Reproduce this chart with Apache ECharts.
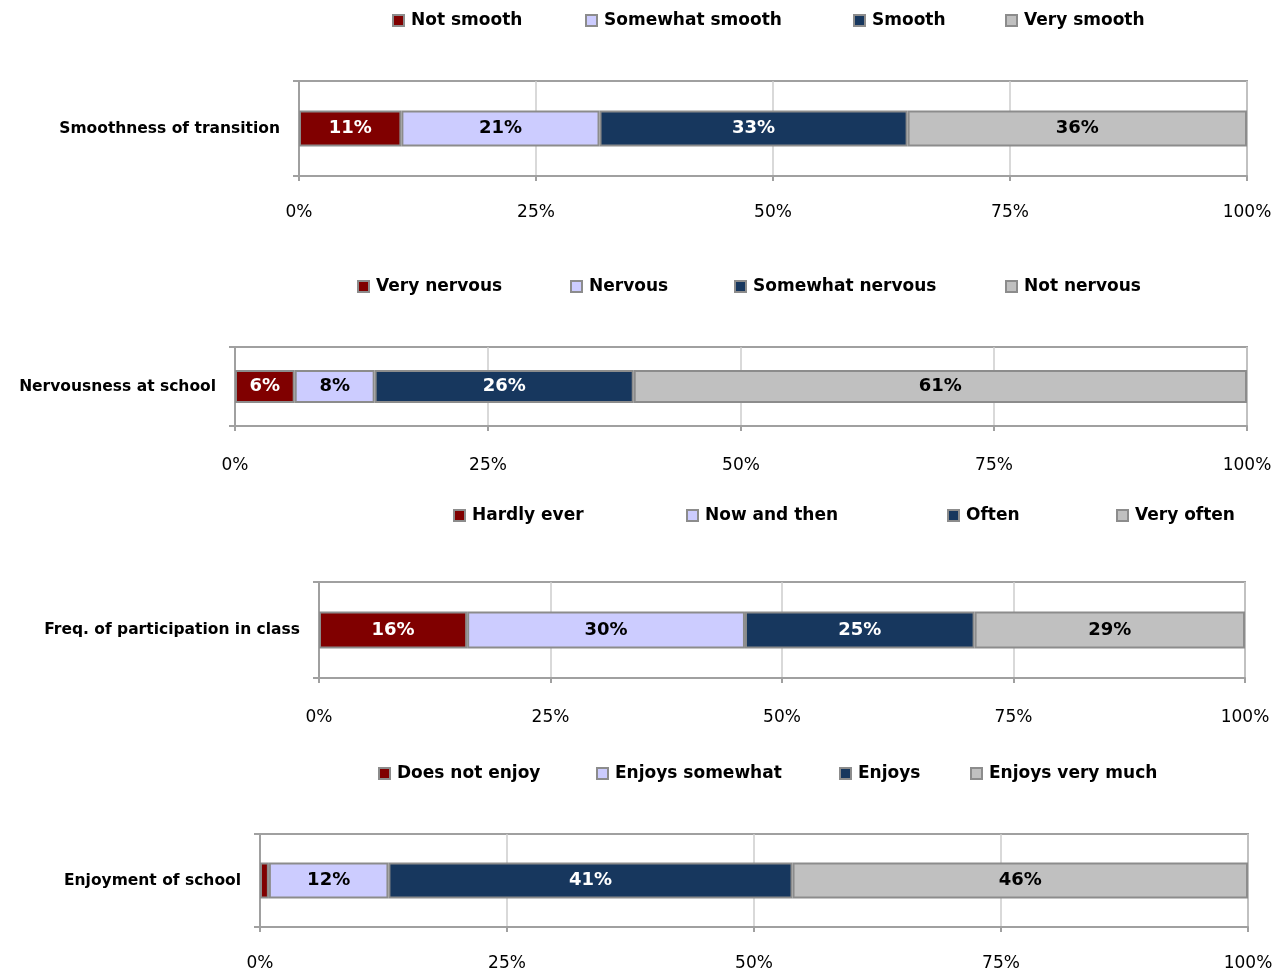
<!DOCTYPE html>
<html>
<head>
<meta charset="utf-8">
<script src="https://cdn.jsdelivr.net/npm/echarts@6/dist/echarts.min.js"></script>
<style>
html,body{margin:0;padding:0;background:#fff;}
#chart{width:1288px;height:973px;}
</style>
</head>
<body>
<div id="chart"></div>
<script>
// ---- Data ----
const categories = ['Smoothness of transition', 'Nervousness at school', 'Freq. of participation in class', 'Enjoyment of school'];
const legendNames1 = ['Not smooth', 'Somewhat smooth', 'Smooth', 'Very smooth'];
const legendNames2 = ['Very nervous', 'Nervous', 'Somewhat nervous', 'Not nervous'];
const legendNames3 = ['Hardly ever', 'Now and then', 'Often', 'Very often'];
const legendNames4 = ['Does not enjoy', 'Enjoys somewhat', 'Enjoys', 'Enjoys very much'];
const values1 = [10.8, 20.9, 32.5, 35.8];
const values2 = [5.9, 7.9, 25.6, 60.6];
const values3 = [16.0, 30.0, 24.8, 29.2];
const values4 = [0.9, 12.1, 40.9, 46.1];
const hideLabelBelow = [0, 0, 0, 5]; // small segment in last panel carries no label
const xTicks = [0, 25, 50, 75, 100];

const colors = ['#800000', '#ccccff', '#17375e', '#c0c0c0'];
const labelColors = ['#ffffff', '#000000', '#ffffff', '#000000'];
const FONT = 'DejaVu Sans';

const panels = [
  {names: legendNames1, values: values1, grid: {left: 299, right: 41, top: 81, height: 95}, barWidth: 36, labelMargin: 28, legendTop: 12, legendX: [392, 585, 853, 1005]},
  {names: legendNames2, values: values2, grid: {left: 235, right: 41, top: 347, height: 79}, barWidth: 33, labelMargin: 31, legendTop: 278, legendX: [357, 570, 734, 1005]},
  {names: legendNames3, values: values3, grid: {left: 319, right: 43, top: 582, height: 96}, barWidth: 37, labelMargin: 31, legendTop: 507, legendX: [453, 686, 947, 1116]},
  {names: legendNames4, values: values4, grid: {left: 260, right: 40, top: 834, height: 93}, barWidth: 36, labelMargin: 28, legendTop: 765, legendX: [378, 596, 839, 970]}
];

const grids = [], xAxes = [], yAxes = [], series = [], legends = [];
panels.forEach((p, i) => {
  grids.push(Object.assign({show: true, borderColor: '#a0a0a0', borderWidth: 2, backgroundColor: 'transparent'}, p.grid));
  xAxes.push({
    type: 'value', gridIndex: i, min: 0, max: 100, interval: 25,
    axisLine: {show: true, lineStyle: {color: '#a0a0a0', width: 2}},
    axisTick: {show: true, length: 5, lineStyle: {color: '#a0a0a0', width: 2}},
    splitLine: {show: true, lineStyle: {color: '#cccccc', width: 1.5}},
    axisLabel: {
      margin: p.labelMargin, fontFamily: FONT, fontSize: 17, color: '#000',
      formatter: v => xTicks.includes(v) ? v + '%' : ''
    }
  });
  yAxes.push({
    type: 'category', gridIndex: i, data: [categories[i]],
    axisLine: {show: true, lineStyle: {color: '#a0a0a0', width: 2}},
    axisTick: {show: true, length: 6, alignWithLabel: false, lineStyle: {color: '#a0a0a0', width: 2}},
    axisLabel: {margin: 19, fontFamily: FONT, fontSize: 15.5, fontWeight: 'bold', color: '#000'}
  });
  p.names.forEach((n, k) => {
    series.push({
      name: n, type: 'bar', stack: 'p' + i, xAxisIndex: i, yAxisIndex: i,
      barWidth: p.barWidth,
      data: [p.values[k]],
      itemStyle: {color: colors[k], borderColor: '#8c8c8c', borderWidth: 2},
      label: {
        show: true, position: 'inside', fontFamily: FONT, fontSize: 18, fontWeight: 'bold',
        color: labelColors[k],
        formatter: prm => prm.value < hideLabelBelow[i] ? '' : Math.round(prm.value) + '%'
      },
      emphasis: {disabled: true},
      animation: false
    });
    legends.push({
      data: [n], left: p.legendX[k], top: p.legendTop, padding: 0,
      icon: 'rect', itemWidth: 11, itemHeight: 11,
      textStyle: {fontFamily: FONT, fontSize: 17, fontWeight: 'bold', color: '#000', padding: [0, 0, 0, 2]},
      selectedMode: false
    });
  });
});

const chart = echarts.init(document.getElementById('chart'), null, {renderer: 'canvas'});
chart.setOption({
  animation: false,
  grid: grids, xAxis: xAxes, yAxis: yAxes, series: series, legend: legends
});
</script>
</body>
</html>
